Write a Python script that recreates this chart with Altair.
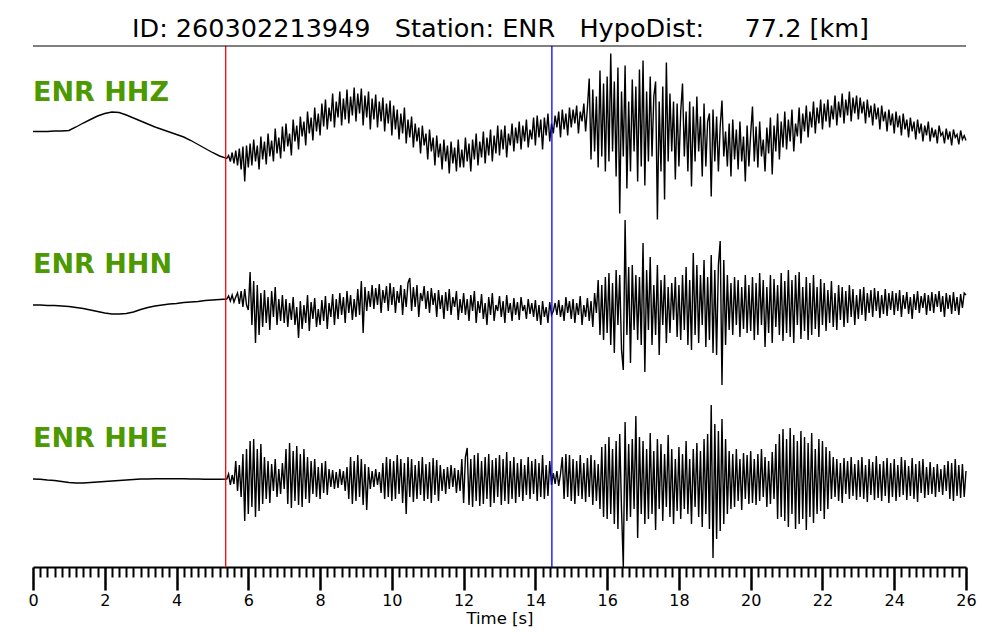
import altair as alt
import pandas as pd

# ---------------- text ----------------
TITLE = "ID: 260302213949   Station: ENR   HypoDist:     77.2 [km]"
CHANNELS = ["ENR HHZ", "ENR HHN", "ENR HHE"]
X_TITLE = "Time [s]"

# ---------------- picks (s) ----------------
PICK_KIND = ["P", "S"]
PICK_TIME = [5.37, 14.46]

# ---------------- sampling ----------------
PRE_STEP = 0.2      # pre-event samples: 0.0 .. 5.2 s
POST_START = 5.40   # post-event samples: 5.40 .. 26.00 s
POST_STEP = 0.05

# ---------------- amplitudes (relative units) ----------------
HHZ_PRE = [0, 0, 0, 0.5, 0.5, 1, 4.5, 8.5, 12, 15.5, 18, 19.5, 19, 16.5, 13.5,
           10.5, 7.5, 4.5, 2, -0.5, -3, -5.5, -9, -13, -17, -21, -24.5]
HHN_PRE = [0, 0, -0.5, -0.5, -1, -1.5, -2.5, -3.5, -5, -6.5, -8, -9, -9, -8.5, -7,
           -4.5, -2.5, -1, 0, 1, 1.5, 2.5, 3, 3.5, 4.5, 5, 5.5]
HHE_PRE = [0, -0.3, -1, -1.5, -2.5, -3.5, -4, -4, -3.5, -3, -2.5, -2, -1.5, -1, -0.5,
           0, 0, 0.3, 0.3, 0.3, 0.3, 0.2, 0, 0, -0.2, -0.3, -0.3]

HHZ_POST = [
    -27, -24, -30, -21, -32, -19, -34, -17, -38, -15, -50, -14,
    -36, -12, -34, -8, -30, -14, -38, -5, -28, -10, -33, -2, -25, -9, -30, 3, -22, -6, -27, 5,
    -20, 8, -15, -2, -24, 12, -10, 6, -18, 15, -5, 10, -14, 20, -2, 14, -9, 24, 0, 18,
    -4, 28, 5, 32, 2, 24, 10, 38, 4, 30, 14, 40, 6, 33, 12, 42, 8, 35, 16, 44,
    10, 38, 18, 43, 6, 36, 14, 40, 2, 33, 12, 37, 4, 30, 10, 34, 0, 28, 8, 31,
    -4, 26, 2, 22, -8, 18, -2, 24, -12, 12, -6, 15, -16, 8, -10, 4, -22, 6, -14, -2,
    -28, 2, -20, -6, -34, -4, -26, -12, -38, -8, -30, -14, -42, -10, -32, -16, -40, -8, -36, -18,
    -36, -6, -30, -12, -40, -8, -28, -2, -34, -10, -26, 0, -32, -6, -24, 2, -30, -4, -22, 6,
    -24, 2, -18, 6, -26, -2, -14, 8, -20, 4, -12, 10, -18, 6, -10, 12, -16, 2, -8, 14,
    -14, 16, -6, 12, -18, 14, -4, 18, -10, 8, -2, 16, 4, 20, -6, 22, 2, 18, -4, 24,
    4, 22, 8, 26, -2, 20, 10, 28, 0, 24, 53, -28, 42, -20, 35, -36, 61, -25, 48, -40,
    55, -30, 78, -20, 50, -45, 64, -82, 40, -25, 66, -57, 30, -40, 52, -20, 45, -50, 62, -35,
    71, -54, 40, -30, 55, -25, 35, 50, -88, 30, -40, 45, -68, 69, -30, 38, -20, 30, -48, 28,
    -35, 20, 48, -25, 20, -40, 30, -55, 25, -30, 35, -20, 15, -45, 28, -35, 10, 18, -65, 22,
    -30, 15, -40, 5, 31, -25, 0, -35, 8, -45, 12, -28, 2, -38, 10, -30, -5, -50, 6, -35,
    -2, 25, -30, 5, -36, 10, -25, -8, -40, 4, -22, 14, -43, 6, -20, 18, -28, 10, -16, 20,
    -18, 12, -10, 22, -20, 8, -5, 24, -12, 18, 0, 26, -6, 20, 4, 30, -2, 24, 8, 32,
    2, 28, 10, 32, 4, 26, 12, 36, 6, 30, 14, 38, 8, 32, 16, 40, 10, 34, 18, 36,
    12, 34, 18, 30, 8, 32, 14, 26, 6, 28, 12, 24, 2, 26, 10, 20, 0, 22, 6, 18,
    -2, 20, 4, 16, -4, 18, 2, 12, -6, 14, 0, 10, -8, 12, -2, 8, -10, 6, -4, 10,
    -10, 4, -6, 2, -12, 6, -4, -1, -12, 3, -8, 0, -14, 2, -6, -3, -13, 1, -8, -4,
    -9,
]

HHN_POST = [
    6, 9, 4, 10, 3, 8, 12, 1, 14, -2, 16, 0,
    -5, 33, -20, 24, -38, 20, -30, 12, -22, 15, -18, 8, -25, 14, -12, 18, -20, 6, -16, 10,
    -18, 6, -22, 2, -15, 8, -20, -2, -33, 4, -24, 0, -18, 10, -26, 3, -14, 7, -22, -4,
    -20, 5, -16, 9, -24, 2, -12, 11, -20, 6, -14, 12, -10, 8, -18, 14, -8, 10, -15, 6,
    -12, 16, -10, 24, -28, 18, -6, 14, -2, 20, -4, 17, 0, 21, -8, 15, 2, 19, -6, 22,
    0, 18, -8, 14, 2, 20, -10, 16, -2, 22, 27, -6, 18, -2, 20, -12, 12, 4, 19, -4,
    14, -8, 17, 0, 12, -12, 15, -4, 10, -14, 13, -6, 16, -10, 8, -2, 14, -15, 6, -8,
    12, -10, 6, -16, 10, -6, 14, -18, 4, -8, 11, -14, 2, -20, 8, -10, 12, -16, 0, -6,
    9, -12, 4, -18, 10, -8, 2, -16, 7, -10, 3, -15, 8, -6, 0, -14, 6, -9, 2, -12,
    5, -16, 0, -20, 4, -12, -2, -18, 3, -10, -6, 2, -10, 5, -12, 0, -16, 8, -8, 4,
    -14, 6, -18, 2, -10, 9, -20, 0, -12, 7, -16, 4, -22, 12, -8, 25, -30, 20, -35, 28,
    -28, 32, -40, 22, -48, 35, -20, 30, -45, -65, 85, -30, 38, -58, 40, -25, 30, -35, 28, -40,
    62, -67, 35, -25, 48, -40, 20, -30, 40, -50, 25, -20, 30, -38, 18, -28, 22, -15, 28, -32,
    20, -35, 30, -25, 38, -40, 25, -45, 52, -30, 40, -38, 30, -20, 45, -42, 28, -35, 50, -48,
    35, -50, 40, 64, -80, 45, -40, 30, -25, 22, -30, 28, -20, 25, -32, 18, -24, 30, -28, 20,
    -26, 28, -35, 22, -30, 32, -20, 25, -42, 18, -28, 30, -38, 26, -22, 20, -30, 32, -36, 24,
    -28, 35, -32, 25, -38, 30, -20, 33, -34, 18, -26, 28, -35, 22, -30, 30, -24, 18, -32, 26,
    -20, 22, -26, 15, -18, 24, -22, 12, -25, 20, -15, 18, -22, 14, -18, 20, -12, 16, -20, 10,
    -14, 16, -10, 18, -16, 12, -8, 15, -12, 17, -6, 14, -13, 10, -9, 16, -11, 12, -5, 14,
    -10, 12, -6, 15, -12, 10, -4, 13, -9, 8, -14, 11, -5, 14, -8, 9, -3, 12, -10, 10,
    -6, 13, -8, 11, -2, 14, -7, 9, -12, 12, -4, 10, -9, 13, -6, 8, -10, 11, -3, 12,
    10,
]

HHE_POST = [
    0, 5, -6, 4, -5, 18, -12, 14, -18, 25, -42, 30,
    -35, 38, -28, 40, -38, 30, -32, 35, -25, 22, -20, 18, -24, 15, -12, 20, -18, 10, -15, 16,
    -10, 30, -25, 36, -29, 28, -22, 33, -26, 25, -28, 30, -20, 22, -24, 18, -15, 20, -18, 12,
    -20, 16, -14, 18, -16, 10, -8, 9, -10, 7, -9, 10, -6, 8, -12, 12, -20, 22, -25, 18,
    -22, 24, -18, 20, -26, 15, -31, 12, -10, 8, -8, 10, -6, 7, -14, 16, -20, 22, -18, 20,
    -22, 18, -20, 24, -15, 20, -24, 16, -35, 22, -18, 20, -23, 14, -20, 18, -16, 22, -22, 15,
    -20, 17, -24, 21, -16, 19, -22, 14, -12, 10, -15, 12, -10, 14, -8, 11, -14, 9, -12, 20,
    -24, 22, 31, -26, 20, -28, 24, -22, 26, -27, 18, -25, 22, -20, 25, -28, 19, -24, 21, -18,
    24, -26, 20, -22, 27, -25, 18, -20, 22, -24, 16, -18, 20, -22, 14, -16, 22, -20, 18, -15,
    20, -22, 16, -18, 24, -20, 14, -17, 18, -6, 6, -5, 8, -7, 5, 22, -20, 25, -18, 24,
    -22, 20, -25, 18, -17, 24, -20, 16, -23, 21, -18, 24, -26, 19, -22, 15, -30, 32, -38, 35,
    -40, 42, -35, 30, -45, 38, -50, 45, -30, -88, 57, -42, 35, -38, 40, -30, 63, -59, 42, -35,
    38, -45, 30, -40, 46, -35, 28, -51, 40, -30, 35, -42, 25, -28, 44, -38, 30, -45, 20, -32,
    32, -40, 25, -30, 38, -35, 20, -45, 30, -28, 36, -38, 28, -48, 40, -35, 45, -50, 74, -79,
    55, -60, 48, -52, 60, -45, 40, -35, 28, -30, 25, -28, 30, -22, 20, -31, 26, -20, 24, -25,
    28, -24, 20, -26, 25, -22, 30, -18, 22, -28, 18, -25, 27, -20, 35, -40, 45, -38, 50, -42,
    40, -48, 51, -35, 44, -50, 38, -45, 48, -40, 42, -51, 36, -38, 46, -44, 30, -35, 40, -32,
    38, -40, 32, -30, 28, -20, 22, -18, 20, -22, 16, -24, 21, -15, 18, -20, 22, -17, 15, -21,
    19, -18, 22, -20, 14, -23, 20, -16, 17, -21, 23, -19, 15, -22, 18, -17, 21, -24, 16, -18,
    20, -22, 14, -18, 22, -16, 19, -21, 13, -17, 21, -20, 15, -23, 18, -14, 20, -19, 12, -16,
    17, -15, 12, -18, 15, -13, 10, -16, 14, -12, 18, -20, 16, -22, 20, -17, 14, -19, 15, -18,
    8,
]

# ---------------- layout ----------------
W, H = 933, 521
TRACE_OFFSET = [435.5, 262.0, 88.0]     # vertical placement of each trace (plot units)
LABEL_Y = [55, 227, 401]                # pixel baseline of channel labels
GREEN = "#4C9900"

series = [(HHZ_PRE, HHZ_POST), (HHN_PRE, HHN_POST), (HHE_PRE, HHE_POST)]
rows = []
for ch, off, (pre, post) in zip(CHANNELS, TRACE_OFFSET, series):
    k = 0
    for i, a in enumerate(pre):
        rows.append({"channel": ch, "t": round(i * PRE_STEP, 3), "pos": off + a, "idx": k})
        k += 1
    for i, a in enumerate(post):
        rows.append({"channel": ch, "t": round(POST_START + i * POST_STEP, 3), "pos": off + a, "idx": k})
        k += 1
df = pd.DataFrame(rows)
picks_df = pd.DataFrame({"kind": PICK_KIND, "t": PICK_TIME})

TICKS = [round(i * 0.2, 1) for i in range(0, 131)]
MAJOR = "abs(datum.value / 2 - round(datum.value / 2)) < 0.001"

axis = alt.Axis(
    values=TICKS,
    orient="bottom",
    grid=False,
    domainColor="black",
    domainWidth=2,
    tickColor="black",
    tickSize={"condition": {"test": MAJOR, "value": 23}, "value": 10},
    tickWidth={"condition": {"test": MAJOR, "value": 2.5}, "value": 2},
    labelExpr=MAJOR + " ? format(datum.value, 'd') : ''",
    labelFont="DejaVu Sans",
    labelFontSize=16,
    labelColor="black",
    labelPadding=2,
    labelOverlap=False,
    labelFlush=False,
    title=X_TITLE,
    titleFont="DejaVu Sans",
    titleFontSize=16.5,
    titleFontWeight="normal",
    titleColor="black",
    titlePadding=2,
)
x_scale = alt.Scale(domain=[0, 26], nice=False, zero=False)
x_enc = alt.X("t:Q", scale=x_scale, axis=axis)

traces = alt.Chart(df).mark_line(color="black", strokeWidth=1.4).encode(
    x=x_enc,
    y=alt.Y("pos:Q", scale=alt.Scale(domain=[0, H], nice=False, zero=False), axis=None),
    detail="channel:N",
    order="idx:Q",
)

picks = alt.Chart(picks_df).mark_rule(strokeWidth=1.3).encode(
    x=x_enc,
    color=alt.Color("kind:N", scale=alt.Scale(domain=PICK_KIND, range=["#ff0000", "#0000ff"]), legend=None),
)

top_line = alt.Chart(pd.DataFrame({"a": [0]})).mark_rule(color="black", strokeWidth=1.2).encode(
    x=alt.value(0), x2=alt.value(W), y=alt.value(0)
)

title_text = alt.Chart(pd.DataFrame({"label": [TITLE.replace(" ", "\u00a0")]})).mark_text(
    font="DejaVu Sans", fontSize=25.5, color="black", align="center", baseline="alphabetic"
).encode(text="label:N", x=alt.value(W / 2 + 1), y=alt.value(-9))

labels = []
for ch, ly in zip(CHANNELS, LABEL_Y):
    labels.append(
        alt.Chart(pd.DataFrame({"label": [ch]})).mark_text(
            font="DejaVu Sans", fontSize=27, fontWeight="bold", color=GREEN,
            align="left", baseline="alphabetic"
        ).encode(text="label:N", x=alt.value(0), y=alt.value(ly))
    )

chart = alt.layer(traces, picks, top_line, title_text, *labels).properties(
    width=W,
    height=H,
    padding={"left": 25, "top": 38, "right": 26, "bottom": 60},
    autosize=alt.AutoSizeParams(type="none"),
    background="white",
).configure_view(stroke=None)

chart.save("out.html", embed_options={"renderer": "svg", "actions": False})
